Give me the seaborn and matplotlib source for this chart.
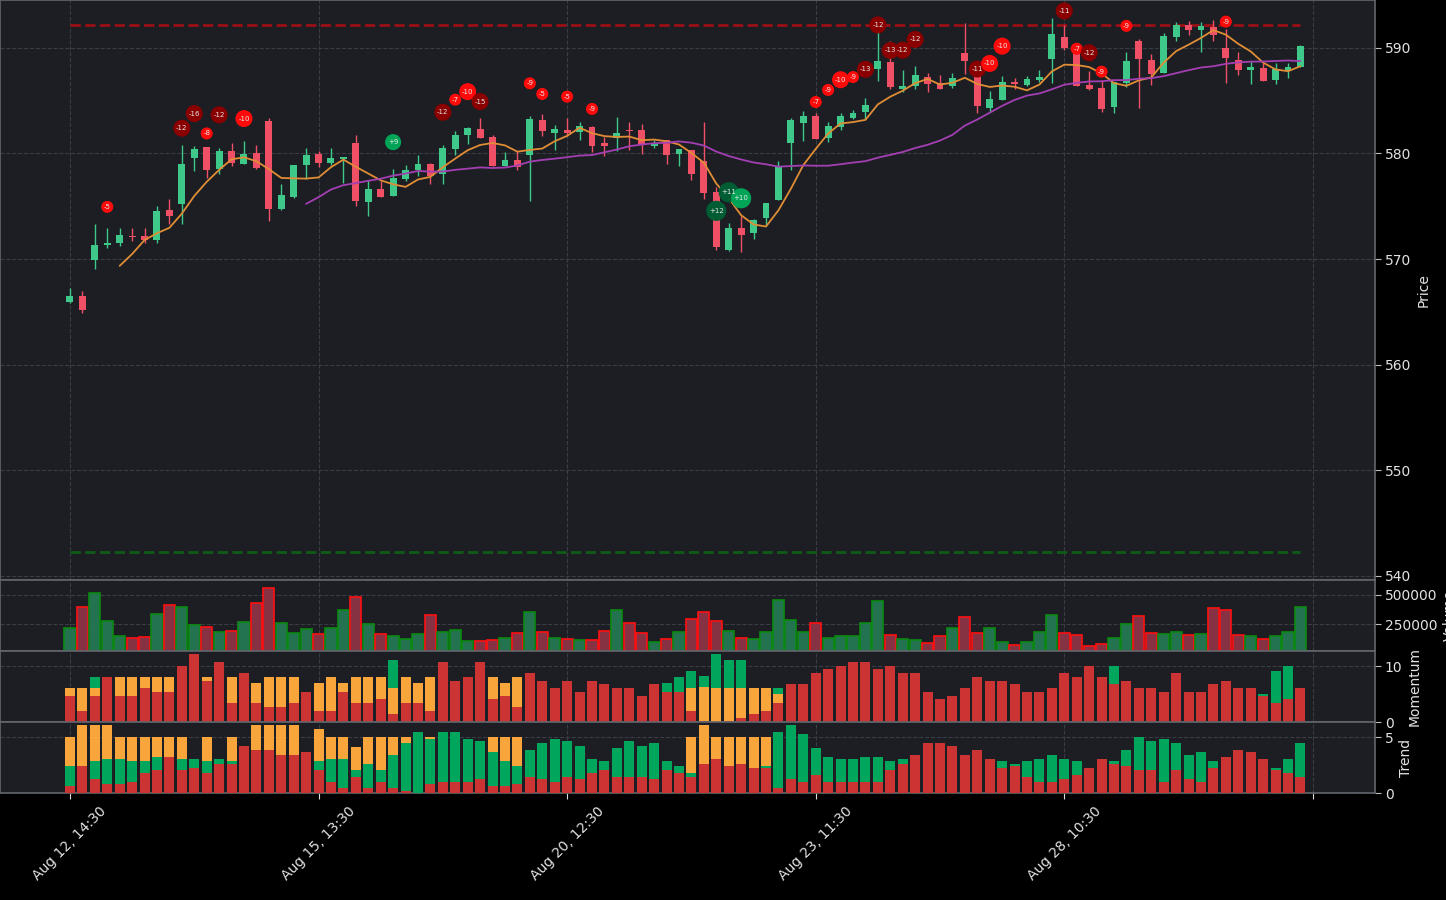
import numpy as np
import pandas as pd
import matplotlib
matplotlib.use("Agg")
import matplotlib.pyplot as plt
from matplotlib.ticker import FuncFormatter
import seaborn as sns

# ---------------- data ----------------
opens = [565.97, 566.45, 569.94, 571.29, 571.48, 572.20, 572.20, 571.76, 574.65, 575.25,
         579.56, 580.60, 578.52, 580.22, 579.03, 580.03, 583.05, 574.78, 575.91, 578.93,
         579.94, 579.09, 579.43, 580.97, 575.44, 576.64, 576.00, 577.58, 578.43, 579.00,
         578.08, 580.44, 581.76, 582.30, 581.54, 578.77, 579.37, 579.87, 583.14, 581.92,
         582.20, 582.01, 582.48, 580.97, 581.45, 582.20, 582.20, 580.69, 581.26, 579.94,
         580.31, 579.28, 576.35, 570.82, 572.96, 572.42, 573.84, 575.63, 581.01, 582.89,
         583.52, 581.48, 582.52, 583.33, 583.90, 587.96, 588.62, 586.07, 586.35, 587.20,
         586.64, 586.35, 589.47, 587.86, 584.28, 585.03, 586.73, 586.45, 586.92, 588.90,
         591.07, 589.75, 586.45, 586.16, 584.37, 586.64, 590.69, 588.81, 587.58, 591.07,
         592.20, 591.73, 592.01, 590.03, 588.81, 587.86, 588.05, 586.92, 587.77, 588.14]
highs = [567.27, 566.98, 573.33, 572.92, 572.92, 572.92, 572.92, 575.03, 575.72, 580.75,
         580.69, 580.60, 580.47, 580.94, 581.16, 580.75, 583.40, 577.08, 578.90, 580.47,
         580.25, 580.47, 579.66, 581.70, 577.48, 577.40, 578.49, 578.90, 579.81, 579.09,
         580.75, 582.11, 582.48, 583.33, 581.79, 580.09, 580.22, 583.58, 583.71, 582.67,
         583.33, 582.96, 582.58, 581.54, 583.43, 582.96, 582.77, 581.26, 581.26, 580.41,
         580.31, 582.96, 576.79, 573.40, 574.09, 573.81, 575.31, 579.25, 583.40, 583.99,
         583.81, 582.96, 583.81, 584.09, 585.22, 591.51, 590.69, 587.86, 588.24, 587.58,
         587.39, 587.58, 592.39, 588.33, 585.88, 587.30, 587.11, 587.30, 587.86, 592.83,
         592.20, 589.90, 587.77, 586.92, 586.73, 589.65, 590.88, 589.37, 591.45, 592.48,
         592.58, 592.48, 592.67, 591.82, 589.65, 588.71, 588.52, 588.52, 588.52, 590.31]
lows = [565.82, 564.87, 569.06, 571.04, 571.20, 571.73, 571.51, 571.51, 573.33, 573.30,
        578.30, 577.70, 578.02, 578.84, 579.00, 578.50, 573.58, 574.62, 575.82, 577.55,
        578.74, 578.90, 577.20, 575.06, 574.12, 575.90, 575.95, 577.39, 577.83, 577.14,
        577.08, 579.87, 580.85, 581.48, 578.84, 578.77, 578.46, 575.53, 581.67, 580.35,
        581.64, 581.29, 580.13, 579.78, 580.25, 580.35, 579.97, 580.50, 579.03, 578.84,
        577.45, 575.66, 570.85, 570.72, 570.63, 571.89, 573.08, 575.63, 578.46, 581.19,
        581.38, 581.04, 582.23, 583.27, 583.27, 586.86, 586.07, 585.79, 586.07, 585.79,
        586.07, 586.16, 587.48, 583.80, 583.90, 585.03, 586.07, 586.35, 586.73, 586.70,
        589.75, 586.35, 585.97, 583.90, 583.80, 586.26, 584.28, 586.45, 587.58, 590.60,
        591.26, 589.56, 590.63, 586.70, 587.39, 586.60, 586.82, 586.60, 587.11, 588.14]
closes = [566.45, 565.13, 571.35, 571.54, 572.30, 572.04, 571.76, 574.56, 574.12, 579.00,
          580.41, 578.46, 580.22, 579.12, 579.94, 578.58, 574.69, 576.07, 578.90, 579.84,
          579.12, 579.56, 579.65, 575.50, 576.64, 575.91, 577.67, 578.43, 579.00, 577.89,
          580.50, 581.73, 582.39, 581.48, 578.84, 579.37, 578.74, 583.24, 582.11, 582.30,
          581.92, 582.58, 580.69, 580.69, 581.92, 582.10, 580.88, 580.97, 579.87, 580.41,
          578.08, 576.29, 571.10, 572.96, 572.30, 573.71, 575.31, 578.77, 583.14, 583.52,
          581.38, 582.61, 583.52, 583.81, 584.56, 588.71, 586.26, 586.35, 587.39, 586.54,
          586.07, 587.11, 588.71, 584.47, 585.12, 586.73, 586.54, 587.01, 587.20, 591.35,
          589.94, 586.35, 586.07, 584.18, 586.73, 588.71, 588.90, 587.48, 591.16, 592.20,
          591.73, 592.11, 591.19, 589.00, 587.86, 588.14, 586.82, 587.96, 588.14, 590.22]
volumes = [217, 400, 517, 275, 150, 133, 142, 333, 417, 400,
           242, 225, 183, 192, 267, 433, 558, 258, 175, 208,
           167, 217, 375, 483, 250, 167, 150, 125, 167, 325,
           183, 200, 108, 108, 117, 133, 175, 358, 183, 133,
           125, 117, 117, 192, 367, 258, 175, 100, 125, 183,
           292, 350, 275, 192, 133, 125, 183, 458, 283, 183,
           258, 133, 150, 150, 258, 450, 158, 125, 117, 92,
           150, 217, 308, 175, 217, 100, 75, 100, 183, 325,
           175, 158, 67, 83, 133, 250, 317, 175, 167, 183,
           158, 167, 392, 367, 158, 150, 125, 150, 183, 400]
volumes = [v * 1000 for v in volumes]

mom_red = [4.64, 1.96, 4.64, 8.04, 4.64, 4.64, 6.07, 5.36, 5.36, 10.0,
           12.14, 7.32, 10.71, 3.39, 8.75, 3.39, 2.68, 2.68, 3.39, 5.36,
           1.96, 1.96, 5.36, 3.39, 3.39, 4.11, 1.43, 3.39, 3.39, 1.96,
           10.71, 7.32, 8.04, 10.71, 4.11, 4.64, 2.68, 8.75, 7.32, 6.07,
           7.32, 5.36, 7.32, 6.79, 6.07, 6.07, 4.64, 6.79, 5.36, 5.36,
           1.96, 0.15, 0.05, 0.15, 0.71, 1.43, 1.96, 3.39, 6.79, 6.79,
           8.75, 9.46, 10.0, 10.71, 10.71, 9.46, 10.0, 8.75, 8.75, 5.36,
           4.11, 4.64, 6.07, 8.04, 7.32, 7.32, 6.79, 5.36, 5.36, 6.07,
           8.75, 8.04, 10.0, 8.04, 6.79, 7.32, 6.07, 6.07, 5.36, 8.75,
           5.36, 5.36, 6.79, 7.32, 6.07, 6.07, 4.64, 3.39, 4.11, 6.07]
mom_orange = [1.43, 4.11, 1.43, 0, 3.39, 3.39, 1.96, 2.68, 2.68, 0,
              0, 0.71, 0, 4.64, 0, 3.57, 5.36, 5.36, 4.64, 0,
              5.0, 6.07, 1.61, 4.64, 4.64, 3.93, 4.64, 4.64, 3.57, 6.07,
              0, 0, 0, 0, 3.93, 2.32, 5.36, 0, 0, 0,
              0, 0, 0, 0, 0, 0, 0, 0, 0, 0,
              4.11, 6.07, 6.07, 5.95, 5.36, 4.64, 4.11, 1.61, 0, 0,
              0, 0, 0, 0, 0, 0, 0, 0, 0, 0,
              0, 0, 0, 0, 0, 0, 0, 0, 0, 0,
              0, 0, 0, 0, 0, 0, 0, 0, 0, 0,
              0, 0, 0, 0, 0, 0, 0, 0, 0, 0]
mom_green = [0, 0, 1.96, 0, 0, 0, 0, 0, 0, 0,
             0, 0, 0, 0, 0, 0, 0, 0, 0, 0,
             0, 0, 0, 0, 0, 0, 5.0, 0, 0, 0,
             0, 0, 0, 0, 0, 0, 0, 0, 0, 0,
             0, 0, 0, 0, 0, 0, 0, 0, 1.61, 2.68,
             3.04, 1.96, 6.07, 5.0, 5.0, 0, 0, 1.07, 0, 0,
             0, 0, 0, 0, 0, 0, 0, 0, 0, 0,
             0, 0, 0, 0, 0, 0, 0, 0, 0, 0,
             0, 0, 0, 0, 3.21, 0, 0, 0, 0, 0,
             0, 0, 0, 0, 0, 0, 0.36, 5.71, 5.89, 0]

trend_red = [0.65, 2.44, 1.28, 0.83, 0.83, 1.01, 1.82, 2.08, 3.24, 2.08,
             2.26, 1.82, 2.62, 2.62, 4.23, 3.87, 3.87, 3.42, 3.42, 3.69,
             2.08, 1.01, 0.48, 1.46, 0.48, 1.01, 0.48, 0.21, 0.0, 0.83,
             1.01, 1.01, 1.01, 1.28, 0.65, 0.65, 0.83, 1.46, 1.28, 1.01,
             1.46, 1.28, 1.82, 2.08, 1.46, 1.46, 1.46, 1.28, 2.08, 1.82,
             1.46, 2.62, 3.07, 2.44, 2.62, 2.26, 2.26, 0.48, 1.28, 1.01,
             1.64, 1.01, 1.01, 1.01, 1.01, 1.01, 2.08, 2.62, 3.42, 4.50,
             4.50, 4.23, 3.42, 3.87, 3.07, 2.26, 2.44, 1.46, 1.01, 1.01,
             1.28, 1.64, 2.26, 3.07, 2.62, 2.44, 2.08, 2.08, 1.01, 2.08,
             1.28, 1.01, 2.26, 3.24, 3.87, 3.69, 3.07, 2.08, 1.82, 1.46]
trend_green = [1.79, 0, 1.61, 2.23, 2.23, 1.88, 1.07, 1.16, 0, 0.98,
               0.80, 1.07, 0.45, 0.27, 0, 0, 0, 0, 0, 0,
               0.80, 2.05, 2.59, 0.63, 2.14, 1.07, 2.95, 4.29, 5.48, 4.02,
               4.46, 4.46, 3.84, 3.39, 3.04, 2.23, 1.61, 2.41, 3.21, 3.84,
               3.21, 2.95, 1.25, 0.80, 2.59, 3.21, 2.77, 3.21, 0.80, 0.63,
               0.36, 0, 0, 0, 0, 0, 0.18, 5.0, 4.82, 4.29,
               2.41, 2.23, 2.05, 2.05, 2.23, 2.23, 0.80, 0.45, 0, 0,
               0, 0, 0, 0, 0, 0.63, 0.18, 1.43, 2.05, 2.41,
               1.79, 1.25, 0, 0, 0.27, 1.43, 2.95, 2.59, 3.84, 2.41,
               2.14, 2.68, 0.63, 0, 0, 0, 0, 0.18, 1.25, 3.04]
trend_orange = [2.59, 3.66, 3.21, 3.04, 1.96, 2.14, 2.14, 1.79, 1.79, 1.96,
                0, 2.14, 0, 2.14, 0, 2.23, 2.23, 2.68, 2.68, 0,
                2.89, 1.96, 1.96, 2.08, 2.41, 2.95, 1.61, 0.54, 0, 0.18,
                0, 0, 0, 0, 1.34, 2.14, 2.59, 0, 0, 0,
                0, 0, 0, 0, 0, 0, 0, 0, 0, 0,
                3.21, 3.48, 1.96, 2.59, 2.41, 2.77, 2.59, 0, 0, 0,
                0, 0, 0, 0, 0, 0, 0, 0, 0, 0,
                0, 0, 0, 0, 0, 0, 0, 0, 0, 0,
                0, 0, 0, 0, 0, 0, 0, 0, 0, 0,
                0, 0, 0, 0, 0, 0, 0, 0, 0, 0]

sig_idx = [3, 9, 10, 11, 12, 14, 26, 30, 31, 32, 33, 37, 38, 40, 42, 52, 53, 54,
           60, 61, 62, 63, 64, 65, 66, 67, 68, 73, 74, 75, 80, 81, 82, 83, 85, 93]
sig_price = [574.94, 582.39, 583.77, 581.89, 583.65, 583.30, 581.07, 583.90, 585.09,
             585.85, 584.91, 586.64, 585.63, 585.38, 584.21, 574.56, 576.32, 575.75,
             584.87, 586.01, 586.98, 587.23, 587.96, 592.17, 589.75, 589.78, 590.79,
             587.99, 588.52, 590.16, 593.49, 589.91, 589.53, 587.74, 592.08, 592.48]
sig_val = [-5, -12, -16, -8, -12, -10, 9, -12, -7, -10, -15, -9, -5, -5, -9, 12, 11, 10,
           -7, -9, -10, -9, -13, -12, -13, -12, -12, -11, -10, -10, -11, -7, -12, -9, -9, -9]

resistance = 592.17
support = 542.25

tick_pos = [0, 20, 40, 60, 80, 100]
tick_labels = ["Aug 12, 14:30", "Aug 15, 13:30", "Aug 20, 12:30",
               "Aug 23, 11:30", "Aug 28, 10:30", ""]

# ---------------- style ----------------
sns.set_theme(style="dark")
BG = "#1c1e23"
TXT = "#e2e2e2"
GRID = "#3a3d43"
SPINE = "#62666c"
plt.rcParams.update({
    "font.family": ["DejaVu Sans"],
    "axes.facecolor": BG,
    "figure.facecolor": "black",
    "text.color": TXT,
    "axes.labelcolor": TXT,
    "xtick.color": TXT,
    "ytick.color": TXT,
})

UP = "#3ec88a"
DOWN = "#ef5066"

df = pd.DataFrame({"open": opens, "high": highs, "low": lows, "close": closes,
                   "volume": volumes})
df["x"] = np.arange(len(df))
df["up"] = df["close"] >= df["open"]
df["ma5"] = df["close"].rolling(5).mean()
df["ma20"] = df["close"].rolling(20).mean()

fig = plt.figure(figsize=(14.46, 9.0), dpi=100)
W = 1375 / 1446
ax_p = fig.add_axes([0.0, 319.7 / 900, W, 580.3 / 900])
ax_v = fig.add_axes([0.0, 249.0 / 900, W, 70.7 / 900], sharex=ax_p)
ax_m = fig.add_axes([0.0, 177.7 / 900, W, 71.3 / 900], sharex=ax_p)
ax_t = fig.add_axes([0.0, 106.7 / 900, W, 71.0 / 900], sharex=ax_p)
axes = [ax_p, ax_v, ax_m, ax_t]

x = df["x"].values
cols = np.where(df["up"], UP, DOWN)

# ---- price panel ----
ax_p.vlines(x, df["low"], df["high"], colors=cols, linewidth=1.0, zorder=2)
body_lo = np.minimum(df["open"], df["close"])
body_h = np.maximum(np.abs(df["close"] - df["open"]), 0.12)
ax_p.bar(x, body_h, bottom=body_lo, width=0.56, color=cols, linewidth=0, zorder=3)

sns.lineplot(x=x, y=df["ma5"].values, ax=ax_p, color="#e08d35", linewidth=1.3,
             estimator=None, zorder=4)
sns.lineplot(x=x, y=df["ma20"].values, ax=ax_p, color="#a33fb3", linewidth=1.3,
             estimator=None, zorder=4)

ax_p.hlines(resistance, 0, len(df) - 1, colors="#9a1016", linestyles="--",
            linewidth=2.0, zorder=1.8)
ax_p.hlines(support, 0, len(df) - 1, colors="#0e5c16", linestyles="--",
            linewidth=2.0, zorder=1.8)

sig = pd.DataFrame({"x": sig_idx, "y": sig_price, "v": sig_val})
def kind(v):
    if v < 0:
        return "neg_strong" if v <= -11 else "neg"
    return "pos_strong" if v >= 11 else "pos"
def sz(v):
    if v < 0:
        return "big" if abs(v) >= 10 else "small"
    return "pbig" if v >= 10 else "pmid"
sig["kind"] = sig["v"].map(kind)
sig["sz"] = sig["v"].map(sz)
sns.scatterplot(data=sig, x="x", y="y", hue="kind", size="sz", ax=ax_p,
                palette={"neg": "#ff0a0a", "neg_strong": "#8a0000",
                         "pos": "#00a456", "pos_strong": "#005c32"},
                sizes={"small": 75, "big": 150, "pmid": 135, "pbig": 210},
                linewidth=0, legend=False, zorder=5)
for _, r in sig.iterrows():
    ax_p.text(r["x"], r["y"], f"{int(r['v']):+d}", ha="center", va="center",
              fontsize=5, color="#e8e8e8", zorder=6)

ax_p.set_ylim(539.57, 594.53)
ax_p.set_yticks([540, 550, 560, 570, 580, 590])
ax_p.set_ylabel("Price")

# ---- volume panel ----
vfill = np.where(df["up"], "#237350", "#873242")
vedge = np.where(df["up"], "#0b8a12", "#ff1010")
ax_v.bar(x, df["volume"], width=0.9, color=vfill, edgecolor=vedge, linewidth=1.2,
         zorder=3)
ax_v.set_ylim(20000, 625000)
ax_v.set_yticks([250000, 500000])
ax_v.yaxis.set_major_formatter(FuncFormatter(lambda v, _: f"{int(v)}"))
ax_v.set_ylabel("Volume")

# ---- momentum panel ----
mr = np.array(mom_red); mo = np.array(mom_orange); mg = np.array(mom_green)
ax_m.bar(x, mr, width=0.8, color="#cc3333", linewidth=0, zorder=3)
ax_m.bar(x, mo, bottom=mr, width=0.8, color="#f8a53c", linewidth=0, zorder=3)
ax_m.bar(x, mg, bottom=mr + mo, width=0.8, color="#00a65c", linewidth=0, zorder=3)
ax_m.set_ylim(0, 12.7)
ax_m.set_yticks([0, 10])
ax_m.set_ylabel("Momentum")

# ---- trend panel ----
tr = np.array(trend_red); tg = np.array(trend_green); to = np.array(trend_orange)
ax_t.bar(x, tr, width=0.8, color="#cc3333", linewidth=0, zorder=3)
ax_t.bar(x, tg, bottom=tr, width=0.8, color="#00a65c", linewidth=0, zorder=3)
ax_t.bar(x, to, bottom=tr + tg, width=0.8, color="#f8a53c", linewidth=0, zorder=3)
ax_t.set_ylim(0, 6.34)
ax_t.set_yticks([0, 5])
ax_t.set_ylabel("Trend")

# ---- common styling ----
for ax in axes:
    ax.set_facecolor(BG)
    ax.yaxis.tick_right()
    ax.yaxis.set_label_position("right")
    ax.grid(True, linestyle="--", linewidth=0.8, color=GRID)
    ax.set_axisbelow(True)
    ax.tick_params(axis="y", which="both", right=True, left=False, length=4,
                   width=0.8, color="#bbbbbb", labelsize=10, labelcolor=TXT, pad=3)
    ax.yaxis.label.set_size(10)
    ax.set_xlabel("")
    for s in ax.spines.values():
        s.set_color(SPINE)
        s.set_linewidth(1.2)

for ax in [ax_p, ax_v, ax_m]:
    ax.tick_params(axis="x", bottom=False, labelbottom=False)

ax_t.set_xlim(-5.63, 105.0)
ax_t.set_xticks(tick_pos)
ax_t.set_xticklabels(tick_labels, rotation=45, ha="center", fontsize=10, color=TXT)
ax_t.tick_params(axis="x", bottom=True, length=4, width=0.8, color="#dddddd", pad=4)

fig.savefig("out.png", dpi=100, facecolor="black")
